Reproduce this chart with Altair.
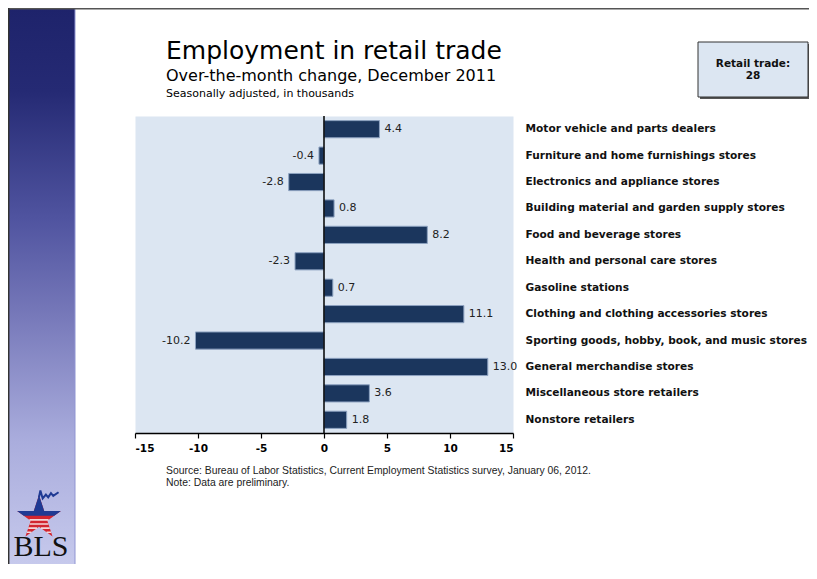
import math
import altair as alt
import pandas as pd

# ---------------- data ----------------
categories = [
    "Motor vehicle and parts dealers",
    "Furniture and home furnishings stores",
    "Electronics and appliance stores",
    "Building material and garden supply stores",
    "Food and beverage stores",
    "Health and personal care stores",
    "Gasoline stations",
    "Clothing and clothing accessories stores",
    "Sporting goods, hobby, book, and music stores",
    "General merchandise stores",
    "Miscellaneous store retailers",
    "Nonstore retailers",
]
values = [4.4, -0.4, -2.8, 0.8, 8.2, -2.3, 0.7, 11.1, -10.2, 13.0, 3.6, 1.8]
x_ticks = [-15, -10, -5, 0, 5, 10, 15]
x_domain = [-15, 15]

title_text = "Employment in retail trade"
subtitle_text = "Over-the-month change, December 2011"
note_text = "Seasonally adjusted, in thousands"
box_lines = ["Retail trade:", "28"]
source_lines = [
    "Source: Bureau of Labor Statistics, Current Employment Statistics survey, January 06, 2012.",
    "Note: Data are preliminary.",
]

df = pd.DataFrame({
    "category": categories,
    "value": values,
    "label": [f"{v:.1f}" for v in values],
})

# ---------------- layout helpers (page pixel -> plot coords) ----------------
PLOT_X0, PLOT_Y0 = 135, 116
PW, PH = 378, 317
CW, CH = 801, 556


def px(x):
    return x - PLOT_X0


def py(y):
    return y - PLOT_Y0


def one(**kw):
    return alt.Data(values=[kw if kw else {"a": 0}])


def txt(text, x, y, size, weight="normal", font="DejaVu Sans", align="left",
        color="#000000", baseline="alphabetic"):
    return alt.Chart(one(t=text)).mark_text(
        align=align, baseline=baseline, font=font, fontSize=size,
        fontWeight=weight, color=color
    ).encode(x=alt.value(px(x)), y=alt.value(py(y)), text="t:N")


def rect(x1, y1, x2, y2, **mk):
    return alt.Chart(one()).mark_rect(**mk).encode(
        x=alt.value(px(x1)), x2=alt.value(px(x2)),
        y=alt.value(py(y1)), y2=alt.value(py(y2)))


def rule(x1, y1, x2, y2, **mk):
    return alt.Chart(one()).mark_rule(**mk).encode(
        x=alt.value(px(x1)), x2=alt.value(px(x2)),
        y=alt.value(py(y1)), y2=alt.value(py(y2)))


# ---------------- left band + frame ----------------
band = rect(8, 8, 75, 8 + CH, fill=alt.LinearGradient(
    gradient="linear", x1=0, x2=0, y1=0, y2=1,
    stops=[
        alt.GradientStop(color="#1e236b", offset=0),
        alt.GradientStop(color="#252a74", offset=0.15),
        alt.GradientStop(color="#5054a0", offset=0.38),
        alt.GradientStop(color="#7678b9", offset=0.55),
        alt.GradientStop(color="#aaaddd", offset=0.78),
        alt.GradientStop(color="#c6c9ec", offset=1),
    ]))
band_edge = rule(75, 8, 75, 8 + CH, color="#9095d2", strokeWidth=1)
frame_top = rule(8, 8.7, 809, 8.7, color="#555555", strokeWidth=1.5)
frame_left = rule(8.7, 8, 8.7, 8 + CH, color="#333333", strokeWidth=1.5)

# ---------------- BLS logo ----------------
star = []
for i in range(10):
    ang = math.radians(-90 + 36 * i)
    r = 1.0 if i % 2 == 0 else 0.382
    star.append((r * math.cos(ang), r * math.sin(ang)))


def path_of(pts):
    return "M" + " L".join(f"{a:.3f},{b:.3f}" for a, b in pts) + " Z"


def clip_above(pts, c):
    out = []
    n = len(pts)
    for i in range(n):
        p, q = pts[i], pts[(i + 1) % n]
        pin, qin = p[1] <= c, q[1] <= c
        if pin:
            out.append(p)
        if pin != qin:
            t = (c - p[1]) / (q[1] - p[1])
            out.append((p[0] + t * (q[0] - p[0]), c))
    return out


def stripe_segments(pts, ys):
    segs = []
    n = len(pts)
    for yy in ys:
        xs = []
        for i in range(n):
            p, q = pts[i], pts[(i + 1) % n]
            if (p[1] - yy) * (q[1] - yy) < 0:
                t = (yy - p[1]) / (q[1] - p[1])
                xs.append(p[0] + t * (q[0] - p[0]))
        xs.sort()
        for j in range(0, len(xs) - 1, 2):
            segs.append(f"M{xs[j]:.3f},{yy:.3f} L{xs[j+1]:.3f},{yy:.3f}")
    return " ".join(segs)


STAR_X, STAR_Y, STAR_SIZE = 39, 518, 2116
star_red = alt.Chart(one()).mark_point(
    shape=path_of(star), size=STAR_SIZE, filled=True, color="#d22630", opacity=1
).encode(x=alt.value(px(STAR_X)), y=alt.value(py(STAR_Y)))
star_blue = alt.Chart(one()).mark_point(
    shape=path_of(clip_above(star, -0.1)), size=STAR_SIZE, filled=True,
    color="#1f3a93", opacity=1
).encode(x=alt.value(px(STAR_X)), y=alt.value(py(STAR_Y)))
star_stripes = alt.Chart(one()).mark_point(
    shape=stripe_segments(star, [0.08, 0.26, 0.44, 0.62]), size=STAR_SIZE,
    filled=False, color="#f4d6d8", strokeWidth=1.6, opacity=1
).encode(x=alt.value(px(STAR_X)), y=alt.value(py(STAR_Y)))
zig = alt.Chart(one()).mark_point(
    shape="M0,-0.9 L0.06,-1.2 L0.16,-0.85 L0.3,-1.02 L0.4,-0.9 L0.52,-1.08 L0.62,-0.96 L0.85,-1.12",
    size=STAR_SIZE, filled=False, color="#1f3a93", strokeWidth=2, opacity=1
).encode(x=alt.value(px(STAR_X)), y=alt.value(py(STAR_Y)))
bls = txt("BLS", 41, 556, 30, font="Liberation Serif", align="center", color="#111111")

# ---------------- titles ----------------
t1 = txt(title_text, 166, 59, 25, color="#000000")
t2 = txt(subtitle_text, 166, 81, 16, color="#000000")
t3 = txt(note_text, 166, 97, 11, color="#000000")

# ---------------- box ----------------
box_shadow = rect(700, 44, 810, 99, fill="#555555")
box = rect(698, 42, 808, 97, fill="#dce6f2", stroke="#333333", strokeWidth=1)
b1 = txt(box_lines[0], 753, 67, 10.5, weight="bold", align="center", color="#111111")
b2 = txt(box_lines[1], 753, 79, 10.5, weight="bold", align="center", color="#111111")

# ---------------- source ----------------
s1 = txt(source_lines[0], 166, 474, 10.4, font="Liberation Sans", color="#222222")
s2 = txt(source_lines[1], 166, 486, 10.4, font="Liberation Sans", color="#222222")

# ---------------- chart ----------------
base = alt.Chart(df)
x_enc = alt.X(
    "value:Q",
    scale=alt.Scale(domain=x_domain, nice=False, zero=False),
    axis=alt.Axis(
        values=x_ticks, labelExpr="'' + datum.value", title=None, grid=False,
        domainColor="#000000", domainWidth=1.5, tickColor="#000000", tickWidth=1.2,
        tickSize=5, labelPadding=5, labelFont="DejaVu Sans", labelFontSize=10.5,
        labelFontWeight="bold", labelColor="#000000",
    ),
)
y_enc = alt.Y(
    "category:N", sort=None,
    scale=alt.Scale(paddingInner=0.35, paddingOuter=0.175),
    axis=alt.Axis(
        orient="right", title=None, domain=False, ticks=False, labelPadding=12,
        labelFont="DejaVu Sans", labelFontSize=10.6, labelFontWeight="bold",
        labelColor="#111111", labelLimit=400,
    ),
)

bars = base.mark_bar(color="#1b365d", stroke="#8da2c0", strokeWidth=1).encode(
    x=x_enc, x2=alt.datum(0), y=y_enc)
zero = alt.Chart(one()).mark_rule(color="#000000", strokeWidth=1.5).encode(x=alt.datum(0))
pos_lab = base.transform_filter("datum.value >= 0").mark_text(
    align="left", baseline="middle", dx=5, font="DejaVu Sans", fontSize=11, color="#222222"
).encode(x="value:Q", y=alt.Y("category:N", sort=None), text="label:N")
neg_lab = base.transform_filter("datum.value < 0").mark_text(
    align="right", baseline="middle", dx=-5, font="DejaVu Sans", fontSize=11, color="#222222"
).encode(x="value:Q", y=alt.Y("category:N", sort=None), text="label:N")

chart = alt.layer(
    band, band_edge, frame_top, frame_left,
    star_red, star_blue, star_stripes, zig, bls,
    t1, t2, t3, box_shadow, box, b1, b2, s1, s2,
    bars, zero, pos_lab, neg_lab,
).properties(
    width=PW, height=PH,
    autosize=alt.AutoSizeParams(type="none"),
    padding={"left": PLOT_X0 - 8, "top": PLOT_Y0 - 8,
             "right": CW - (PLOT_X0 - 8) - PW, "bottom": CH - (PLOT_Y0 - 8) - PH},
    background="#ffffff",
).configure_view(fill="#dce6f2", stroke="transparent")

chart.save("out.html", embed_options={"renderer": "svg", "actions": False})
